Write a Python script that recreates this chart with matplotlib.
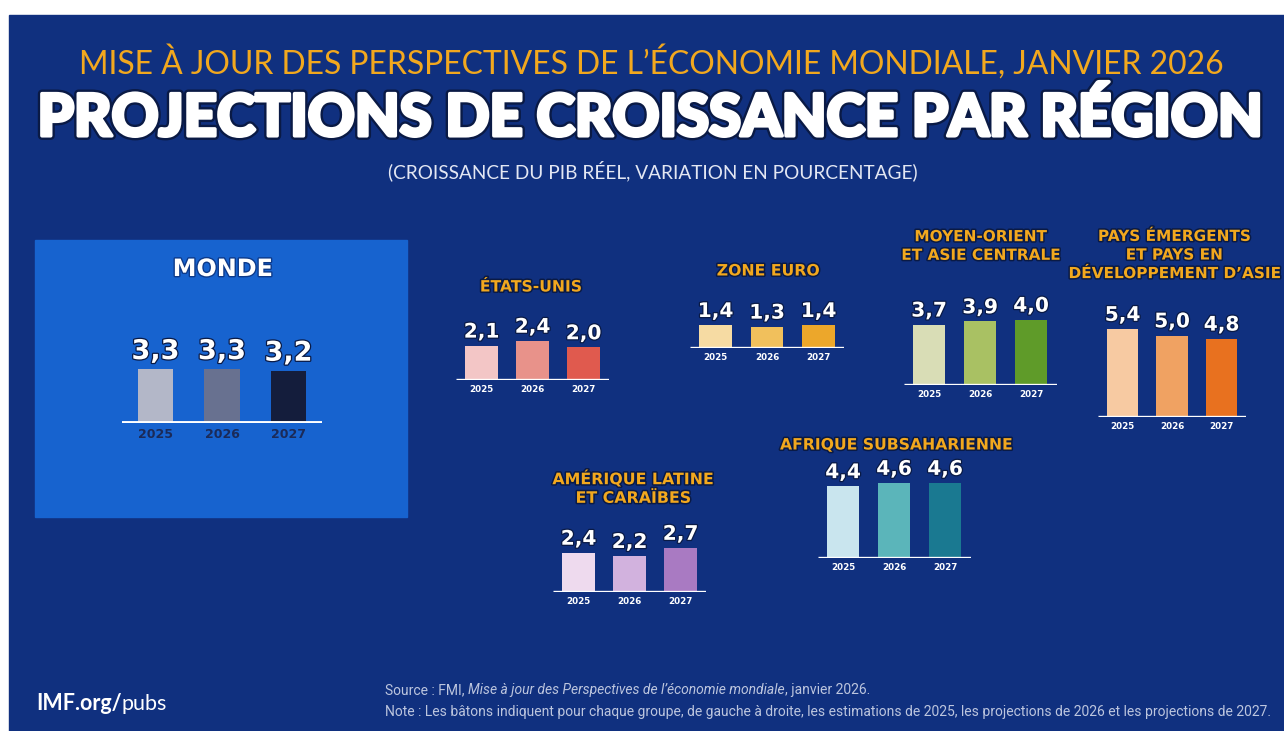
import matplotlib

matplotlib.use("Agg")
import matplotlib.patheffects as pe
import matplotlib.pyplot as plt
from matplotlib.patches import Rectangle

W, H, DPI = 1284, 731, 100
PX_PER_UNIT = 16.3  # bar height in pixels per percentage point

# --- data -------------------------------------------------------------------
YEARS = ["2025", "2026", "2027"]
MONDE = [3.3, 3.3, 3.2]
ETATS_UNIS = [2.1, 2.4, 2.0]
ZONE_EURO = [1.4, 1.3, 1.4]
MOYEN_ORIENT = [3.7, 3.9, 4.0]
ASIE = [5.4, 5.0, 4.8]
AMERIQUE_LATINE = [2.4, 2.2, 2.7]
AFRIQUE = [4.4, 4.6, 4.6]

GROUP_TITLES = {
    "us": "ÉTATS-UNIS",
    "euro": "ZONE EURO",
    "mena": "MOYEN-ORIENT\nET ASIE CENTRALE",
    "asia": "PAYS ÉMERGENTS\nET PAYS EN\nDÉVELOPPEMENT D’ASIE",
    "latam": "AMÉRIQUE LATINE\nET CARAÏBES",
    "ssa": "AFRIQUE SUBSAHARIENNE",
}

# --- styles -----------------------------------------------------------------
BG = "#10307f"
BOX = "#1763cf"
ORANGE = "#f2a81e"
SHADOW = "#0a1a45"
COLORS = {
    "world": ["#b3b7c8", "#687190", "#141d3c"],
    "us": ["#f3c6c6", "#e8928a", "#e05a4e"],
    "euro": ["#f6dba3", "#f1c05c", "#eca72b"],
    "mena": ["#d9ddb6", "#a9c163", "#5f9b29"],
    "asia": ["#f7caa2", "#f0a262", "#e8711f"],
    "latam": ["#eedaee", "#d2b2de", "#a97ac2"],
    "ssa": ["#c9e5ee", "#5bb5ba", "#1a7991"],
}

fig = plt.figure(figsize=(W / DPI, H / DPI), dpi=DPI, facecolor="white")
renderer = fig.canvas.get_renderer()


def px(x, y):
    return x / W, 1 - y / H


def fit_text(s, x0, x1, y, size0=12, **kw):
    """Centered text scaled so its widest line spans x0..x1 (pixels)."""
    t = fig.text(*px((x0 + x1) / 2, y), s, ha="center", va="center", fontsize=size0, **kw)
    w = t.get_window_extent(renderer).width
    t.set_fontsize(size0 * (x1 - x0) / w)
    return t


def run_text(segments, x0, y, size, **kw):
    """Left-to-right pieces of text with their own styles on one line."""
    x = x0
    for s, extra in segments:
        t = fig.text(*px(x, y), s, ha="left", va="center", fontsize=size, **kw, **extra)
        x += t.get_window_extent(renderer).width


outline = [pe.withStroke(linewidth=2.2, foreground=SHADOW)]

# background panel (scan leaves a white margin top/left)
fig.patches.append(
    Rectangle(px(9, H), (W - 9) / W, (H - 15) / H, transform=fig.transFigure,
              color=BG, zorder=-2)
)
fig.patches.append(
    Rectangle(px(35, 517), (407 - 35) / W, (517 - 240) / H, transform=fig.transFigure,
              color=BOX, zorder=-1)
)

# headings
fit_text("MISE À JOUR DES PERSPECTIVES DE L’ÉCONOMIE MONDIALE, JANVIER 2026",
         80, 1222, 62, family="Lato", color=ORANGE)
fit_text("PROJECTIONS DE CROISSANCE PAR RÉGION", 40, 1260, 119,
         family="Lato", weight="black", color="white",
         path_effects=[pe.withStroke(linewidth=6, foreground=SHADOW),
                       pe.Stroke(linewidth=2.6, foreground="white"), pe.Normal()])
fit_text("(CROISSANCE DU PIB RÉEL, VARIATION EN POURCENTAGE)", 390, 916, 171,
         family="Lato", color="#e3e7f3")


def draw_group(values, colors, cx0, dx, base, bar_w, val_size, year_size,
               year_color, lw):
    left = cx0 - 0.5 * dx
    h = 130
    ax = fig.add_axes([left / W, 1 - base / H, 3 * dx / W, h / H])
    ax.set_xlim(-0.5, 2.5)
    ax.set_ylim(0, h / PX_PER_UNIT)
    ax.bar(range(3), values, width=bar_w, color=colors, zorder=2)
    ax.axhline(0, color="white", lw=lw, zorder=3, solid_capstyle="butt")
    for i, v in enumerate(values):
        ax.annotate(f"{v:.1f}".replace(".", ","), (i, v), xytext=(0, 3),
                    textcoords="offset points", ha="center", va="bottom",
                    fontsize=val_size, fontweight="bold", color="white",
                    path_effects=[pe.withStroke(linewidth=1.8, foreground=SHADOW)])
    ax.set_xticks(range(3), YEARS)
    ax.tick_params(axis="x", length=0, pad=3.5, labelsize=year_size, labelcolor=year_color)
    for lab in ax.get_xticklabels():
        lab.set_fontweight("bold")
    ax.set_yticks([])
    for s in ax.spines.values():
        s.set_visible(False)
    ax.patch.set_alpha(0)
    return ax


# Monde
fit_text("MONDE", 173, 273, 269, family="DejaVu Sans", weight="bold", color="white",
         path_effects=[pe.withStroke(linewidth=2, foreground="#0d3a8a")])
draw_group(MONDE, COLORS["world"], 155.5, 66.5, 423, 0.53, 19.5, 9, "#1b2a58", 2.8)

# regions
draw_group(ETATS_UNIS, COLORS["us"], 481.5, 51, 380, 0.64, 14.5, 6.3, "white", 2.4)
draw_group(ZONE_EURO, COLORS["euro"], 715.5, 51.5, 348, 0.64, 14.5, 6.3, "white", 2.4)
draw_group(MOYEN_ORIENT, COLORS["mena"], 929, 51, 385, 0.63, 14.5, 6.3, "white", 2.4)
draw_group(ASIE, COLORS["asia"], 1122.5, 49.5, 417, 0.63, 14.5, 6.3, "white", 2.4)
draw_group(AMERIQUE_LATINE, COLORS["latam"], 578.5, 51, 592, 0.63, 14.5, 6.3, "white", 2.4)
draw_group(AFRIQUE, COLORS["ssa"], 843, 51, 558, 0.63, 14.5, 6.3, "white", 2.4)

title_kw = dict(family="DejaVu Sans", weight="bold", color=ORANGE,
                linespacing=1.3, path_effects=outline)
fit_text(GROUP_TITLES["us"], 480, 582, 287, **title_kw)
fit_text(GROUP_TITLES["euro"], 717, 820, 271, **title_kw)
fit_text(GROUP_TITLES["mena"], 901, 1060, 246, **title_kw)
fit_text(GROUP_TITLES["asia"], 1068, 1280, 255, **title_kw)
fit_text(GROUP_TITLES["latam"], 553, 714, 488, **title_kw)
fit_text(GROUP_TITLES["ssa"], 780, 1012, 445, **title_kw)

# footer
run_text([("IMF.org/", {"weight": "bold"}), ("pubs", {})], 36, 704, 15.5,
         family="Lato", color="white")
note = fit_text("Note : Les bâtons indiquent pour chaque groupe, de gauche à droite, "
                "les estimations de 2025, les projections de 2026 et les projections de 2027.",
                385, 1268, 712, family="Roboto", color="#bcc5de")
note.set_ha("left")
note.set_x(385 / W)
run_text([("Source : FMI, ", {}),
          ("Mise à jour des Perspectives de l’économie mondiale", {"style": "italic"}),
          (", janvier 2026.", {})],
         385, 690, note.get_fontsize(), family="Roboto", color="#bcc5de")

fig.savefig("out.png", dpi=DPI, facecolor="white")
